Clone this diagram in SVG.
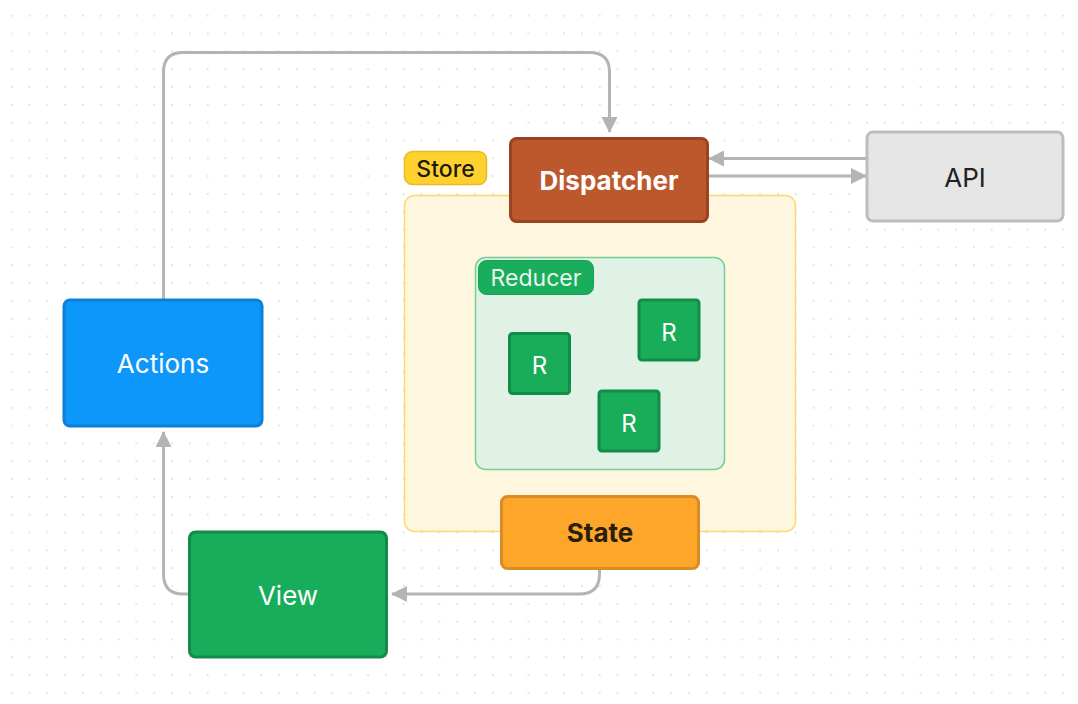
<svg xmlns="http://www.w3.org/2000/svg" width="1078" height="704" viewBox="0 0 1078 704">
  <defs>
    <pattern id="dots" x="2.8" y="6.8" width="17.82" height="17.82" patternUnits="userSpaceOnUse">
      <circle cx="8.9" cy="8.9" r="1" fill="#dcdcdc"/>
    </pattern>
    <marker id="arrow" viewBox="0 0 16 16" refX="15" refY="8" markerWidth="16" markerHeight="16" markerUnits="userSpaceOnUse" orient="auto">
      <path d="M0,0 L16,8 L0,16 Z" fill="#b4b4b4"/>
    </marker>
    <style>
      .t { font-family: Inter, "Noto Sans", "Liberation Sans", sans-serif; text-anchor: middle; }
      .big { font-size: 26px; }
      .bold { font-weight: 700; }
      .white { fill: #ffffff; }
      .edge { fill: none; stroke: #b4b4b4; stroke-width: 3; }
      .r { fill: #19ad5a; stroke: #138c48; stroke-width: 3; }
    </style>
  </defs>

  <rect x="0" y="0" width="1078" height="704" fill="#ffffff"/>
  <rect x="0" y="0" width="1078" height="704" fill="url(#dots)"/>

  <!-- store container -->
  <g id="store">
    <rect x="404.5" y="195.5" width="391" height="336" rx="10" fill="#fff6df" stroke="#fcd873" stroke-width="1.5"/>
    <rect x="404.5" y="151.5" width="82" height="33" rx="8" fill="#ffd12e" stroke="#e9bd22" stroke-width="1.5"/>
    <text class="t" x="445.5" y="176.5" font-size="23" font-weight="500" fill="#1e1a10">Store</text>
  </g>

  <!-- reducer group -->
  <g id="reducer">
    <rect x="475.5" y="257.5" width="249" height="212" rx="10" fill="#dff2e5" stroke="#74cf92" stroke-width="1.5"/>
    <rect x="478.5" y="260.5" width="115" height="34" rx="8" fill="#1aad5c" stroke="#169e53" stroke-width="1"/>
    <text class="t" x="536" y="286" font-size="23" fill="#e6f6eb">Reducer</text>
  </g>
  <g id="r1">
    <rect class="r" x="509.5" y="333.5" width="60" height="60" rx="3"/>
    <text class="t white" x="539.5" y="373.5" font-size="24">R</text>
  </g>
  <g id="r2">
    <rect class="r" x="639" y="300" width="60" height="60" rx="3"/>
    <text class="t white" x="669" y="341" font-size="24">R</text>
  </g>
  <g id="r3">
    <rect class="r" x="599" y="391" width="60" height="60" rx="3"/>
    <text class="t white" x="629" y="432" font-size="24">R</text>
  </g>

  <!-- connectors -->
  <g id="connectors">
    <path class="edge" d="M163.5,299 V72 Q163.5,52.5 183,52.5 H589.5 Q609.5,52.5 609.5,72 V132" marker-end="url(#arrow)"/>
    <path class="edge" d="M866,158.5 H709" marker-end="url(#arrow)"/>
    <path class="edge" d="M709,176 H866" marker-end="url(#arrow)"/>
    <path class="edge" d="M599.5,570 V574 Q599.5,594 579.5,594 H392" marker-end="url(#arrow)"/>
    <path class="edge" d="M188,594 H183 Q163.5,594 163.5,574 V432" marker-end="url(#arrow)"/>
  </g>

  <g id="dispatcher">
    <rect x="510.5" y="138.5" width="197" height="83" rx="6" fill="#bd582c" stroke="#9a4323" stroke-width="3"/>
    <text class="t big bold white" x="609" y="190">Dispatcher</text>
  </g>

  <g id="api">
    <rect x="867" y="132" width="196" height="89" rx="6" fill="#e6e6e6" stroke="#bdbdbd" stroke-width="3"/>
    <text class="t big" x="965" y="187" fill="#222222">API</text>
  </g>

  <g id="actions">
    <rect x="64" y="300" width="198" height="126" rx="6" fill="#0e97fb" stroke="#0b80d8" stroke-width="3"/>
    <text class="t big white" x="163" y="373">Actions</text>
  </g>

  <g id="state">
    <rect x="501.5" y="496.5" width="197" height="72" rx="6" fill="#fda62a" stroke="#da8b22" stroke-width="3"/>
    <text class="t big bold" x="600" y="542" fill="#2a1e0c">State</text>
  </g>

  <g id="view">
    <rect x="189.5" y="532" width="197" height="125" rx="6" fill="#18ad5b" stroke="#118b47" stroke-width="3"/>
    <text class="t big white" x="288" y="604.5">View</text>
  </g>
</svg>
